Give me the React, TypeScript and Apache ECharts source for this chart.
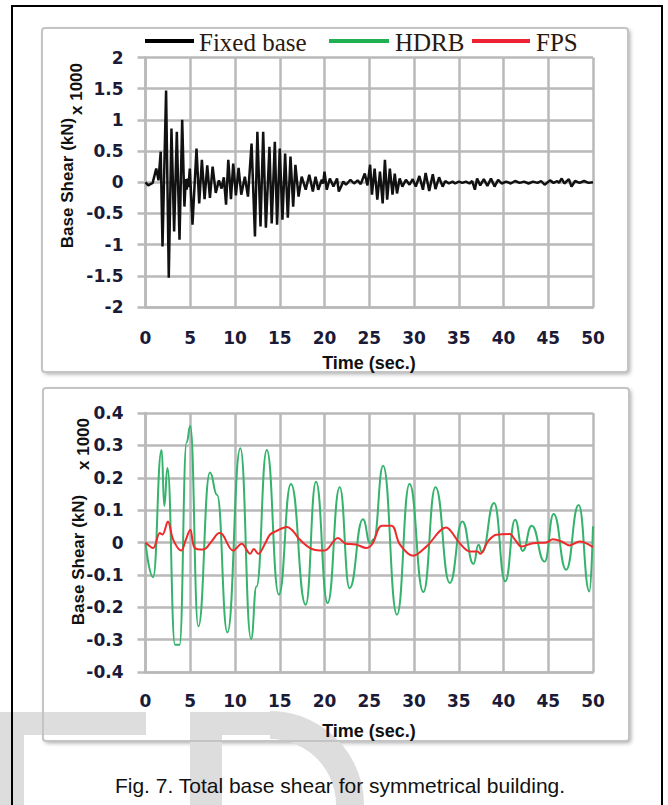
import React, { useEffect, useRef } from "react";
import * as echarts from "echarts";

// ---- data (time in sec, base shear in kN x 1000) ----
const fixedT = [
  0, 0.3, 0.8, 1.2, 1.45, 1.7, 1.9, 2.3, 2.6, 2.9,
  3.2, 3.5, 3.8, 4.1, 4.35, 4.5, 4.6, 4.7, 4.8, 4.95,
  5.25, 5.7, 6.0, 6.3, 6.6, 6.9, 7.2, 7.5, 7.85, 8.2,
  8.5, 8.75, 9.0, 9.25, 9.55, 9.8, 10.1, 10.4, 10.7, 11.1,
  11.45, 11.85, 12.23, 12.5, 12.85, 13.15, 13.45, 13.85, 14.1, 14.45,
  14.7, 15.0, 15.3, 15.6, 15.9, 16.2, 16.5, 16.75, 17.1, 17.45,
  17.9, 18.3, 18.7, 19.0, 19.3, 19.7, 19.85, 20.0, 20.25, 20.6,
  21.0, 21.4, 21.6, 22.1, 22.4, 22.9, 23.3, 23.7, 24.05, 24.5,
  24.8, 25.1, 25.3, 25.6, 25.9, 26.2, 26.5, 26.75, 27.0, 27.3,
  27.6, 27.85, 28.1, 28.4, 28.7, 29.1, 29.5, 29.85, 30.2, 30.6,
  31.0, 31.3, 31.7, 32.1, 32.4, 32.8, 33.2, 33.5, 33.9, 34.3,
  34.6, 35.0, 35.4, 35.8, 36.2, 36.5, 36.8, 37.05, 37.4, 37.8,
  38.2, 38.6, 39.0, 39.4, 39.8, 40.3, 40.8, 41.3, 41.8, 42.3,
  42.8, 43.3, 43.8, 44.2, 44.6, 45.2, 45.6, 46.0, 46.2, 46.5,
  46.8, 47.3, 47.6, 48.0, 48.5, 49.0, 49.5, 50.0,
];
const fixedV = [
  0, -0.05, -0.01, 0.22, 0.03, 0.49, -1.03, 1.47, -1.53, 0.86,
  -0.79, 0.81, -0.92, 1.0, -0.39, 0.05, -0.12, 0.06, -0.08, 0.22,
  -0.68, 0.54, -0.34, 0.36, -0.27, 0.27, -0.25, 0.25, -0.17, 0.03,
  -0.1, 0.08, -0.36, 0.36, -0.27, 0.3, -0.21, 0.23, -0.2, 0.09,
  -0.23, 0.62, -0.87, 0.81, -0.71, 0.81, -0.73, 0.57, -0.66, 0.65,
  -0.68, 0.54, -0.6, 0.46, -0.57, 0.41, -0.39, 0.28, -0.23, 0.09,
  -0.12, 0.12, -0.15, 0.09, -0.12, 0.04, -0.02, 0.17, -0.12, 0.06,
  -0.07, 0.06, -0.15, 0.01, -0.04, 0.04, -0.02, 0.03, -0.03, 0.14,
  -0.05, 0.28, -0.2, 0.22, -0.28, 0.17, -0.34, 0.36, -0.28, 0.22,
  -0.2, 0.14, -0.18, 0.06, -0.07, 0.04, -0.04, 0.05, -0.07, 0.1,
  -0.12, 0.15, -0.14, 0.13, -0.11, 0.08, -0.07, 0.02, -0.02, 0.01,
  -0.02, 0.01, -0.01, 0.01, -0.02, 0.02, -0.12, 0.06, -0.05, 0.05,
  -0.06, 0.06, -0.07, 0.04, -0.02, 0.01, -0.02, 0.02, -0.01, 0.01,
  -0.02, 0.01, -0.01, 0.02, -0.04, 0.03, -0.01, 0.02, -0.01, 0.06,
  -0.02, 0.05, -0.07, 0.02, -0.01, 0.02, -0.01, 0.0,
];

const hdrbT = [
  0, 0.85, 1.8, 2.1, 2.45, 3.3, 3.8, 4.6, 5.0, 5.9,
  7.2, 8.0, 9.15, 10.6, 11.8, 12.4, 13.55, 14.9, 16.25, 17.9,
  19.05, 20.35, 21.7, 22.8, 24.3, 25.1, 25.5, 26.55, 28.1, 29.5,
  31.05, 32.4, 34.0, 35.4, 36.65, 37.2, 37.6, 38.95, 40.2, 41.3,
  42.15, 43.15, 44.6, 45.6, 47.0, 48.4, 49.6, 50,
];
const hdrbV = [
  0, -0.107, 0.286, 0.113, 0.23, -0.316, -0.316, 0.31, 0.36, -0.259,
  0.216, 0.147, -0.278, 0.291, -0.298, -0.136, 0.286, -0.161, 0.181, -0.192,
  0.188, -0.187, 0.171, -0.141, 0.072, -0.002, 0.01, 0.237, -0.223, 0.181,
  -0.153, 0.171, -0.125, 0.065, -0.066, -0.007, -0.03, 0.122, -0.12, 0.07,
  -0.026, 0.052, -0.059, 0.088, -0.084, 0.116, -0.151, 0.05,
];

const fpsT = [
  0, 0.85, 1.6, 1.9, 2.5, 3.1, 4.0, 4.5, 5.0, 5.5,
  6.45, 7.4, 8.25, 8.6, 9.8, 10.75, 11.7, 12.1, 12.6, 13.35,
  13.9, 14.6, 15.8, 16.5, 17.2, 18.6, 20.0, 21.5, 22.4, 23.5,
  24.7, 25.35, 26.4, 27.5, 28.4, 29.9, 31.4, 33.6, 34.1, 35.1,
  36.25, 37.1, 37.4, 38.3, 39.2, 40.7, 41.3, 42.0, 43.3, 44.8,
  45.5, 46.5, 47.4, 48.5, 50,
];
const fpsV = [
  0, -0.017, 0.029, 0.025, 0.065, 0.008, -0.025, 0.008, 0.039, -0.017,
  -0.022, 0.004, 0.029, 0.025, -0.025, -0.004, -0.035, -0.02, -0.035, -0.004,
  0.024, 0.035, 0.048, 0.035, 0.01, -0.02, -0.025, 0.014, -0.004, -0.006,
  -0.017, -0.004, 0.052, 0.052, -0.005, -0.041, -0.012, 0.046, 0.036, -0.002,
  -0.028, -0.028, -0.035, 0.005, 0.024, 0.026, 0.008, -0.012, -0.002, 0,
  0.01, 0.003, -0.009, 0.003, -0.014,
];

// axis ranges
const timeRange = [0, 50, 5]; // min, max, interval
const topYRange = [-2, 2, 0.5];
const bottomYRange = [-0.4, 0.4, 0.1];

const seriesNames = ["Fixed base", "HDRB", "FPS"];
const seriesColors = ["#111111", "#35b36c", "#ee2b2b"];
const legendColors = ["#000000", "#21b04f", "#ee2233"];

const yTitle = "Base Shear (kN)";
const yScale = "x 1000";
const xTitle = "Time (sec.)";
const caption = "Fig. 7. Total base shear for symmetrical building.";

const zip = (t: number[], v: number[]) => t.map((x, i) => [x, v[i]]);

const GRID = "#b9b9b9";
const LABEL = "#1b1b38";
const WM = "#dddddd";

export default function App() {
  const ref = useRef<HTMLDivElement>(null);

  useEffect(() => {
    const chart = echarts.init(ref.current!, null, { renderer: "svg" });

    const labelStyle = {
      color: LABEL,
      fontFamily: "DejaVu Sans",
      fontWeight: "bold" as const,
      fontSize: 17,
    };

    const xAxisBase = (gridIndex: number, margin: number) => ({
      type: "value",
      gridIndex,
      min: timeRange[0],
      max: timeRange[1],
      interval: timeRange[2],
      axisLine: { show: true, onZero: false, lineStyle: { color: GRID, width: 2.5 } },
      axisTick: { show: false },
      splitLine: { show: true, lineStyle: { color: GRID, width: 2.5 } },
      axisLabel: { ...labelStyle, margin },
    });

    const yAxisBase = (gridIndex: number, r: number[]) => ({
      type: "value",
      gridIndex,
      min: r[0],
      max: r[1],
      interval: r[2],
      axisLine: { show: true, onZero: false, lineStyle: { color: GRID, width: 2.5 } },
      axisTick: { show: true, length: 8, lineStyle: { color: GRID, width: 2.5 } },
      splitLine: { show: true, lineStyle: { color: GRID, width: 2.5 } },
      axisLabel: { ...labelStyle, margin: 22 },
    });

    const txt = (
      text: string,
      x: number,
      y: number,
      font: string,
      opts: any = {}
    ) => ({
      type: "text",
      x,
      y,
      z: 10,
      rotation: opts.rotation || 0,
      scaleX: opts.scaleX || 1,
      style: {
        text,
        font,
        fill: opts.fill || "#111",
        textAlign: opts.align || "center",
        textVerticalAlign: "middle",
        align: opts.align || "center",
        verticalAlign: "middle",
      },
    });

    const legendY = 41;
    const legendLine = (x1: number, x2: number, color: string) => ({
      type: "line",
      z: 10,
      shape: { x1, y1: legendY, x2, y2: legendY },
      style: { stroke: color, lineWidth: 4 },
    });

    const legendFont = '25px "Liberation Serif"';

    const graphic: any[] = [
      // panel backgrounds
      {
        type: "rect",
        z: -5,
        shape: { x: 42, y: 28, width: 586, height: 344, r: 3 },
        style: {
          fill: "#fff",
          shadowBlur: 4,
          shadowColor: "rgba(0,0,0,0.35)",
          shadowOffsetX: 2,
          shadowOffsetY: 2,
        },
      },
      {
        type: "rect",
        z: -5,
        shape: { x: 43, y: 388, width: 586, height: 353, r: 3 },
        style: {
          fill: "#fff",
          shadowBlur: 4,
          shadowColor: "rgba(0,0,0,0.35)",
          shadowOffsetX: 2,
          shadowOffsetY: 2,
        },
      },
      // watermark "ED"
      { type: "rect", z: -4, shape: { x: 0, y: 712, width: 146, height: 23 }, style: { fill: WM } },
      { type: "rect", z: -4, shape: { x: 0, y: 712, width: 24, height: 100 }, style: { fill: WM } },
      { type: "rect", z: -4, shape: { x: 190, y: 712, width: 32, height: 100 }, style: { fill: WM } },
      { type: "rect", z: -4, shape: { x: 190, y: 712, width: 85, height: 23 }, style: { fill: WM } },
      {
        type: "arc",
        z: -4,
        shape: { cx: 270, cy: 805, r: 80, startAngle: -Math.PI / 2, endAngle: 0.2 },
        style: { stroke: WM, lineWidth: 28, fill: "none" },
      },
      // panel borders
      {
        type: "rect",
        z: -3,
        shape: { x: 42, y: 28, width: 586, height: 344, r: 3 },
        style: { fill: "none", stroke: "#c4c4c4", lineWidth: 2 },
      },
      {
        type: "rect",
        z: -3,
        shape: { x: 43, y: 388, width: 586, height: 353, r: 3 },
        style: { fill: "none", stroke: "#c4c4c4", lineWidth: 2 },
      },
      // outer frame
      {
        type: "rect",
        z: 20,
        shape: { x: 12, y: 6, width: 650, height: 900 },
        style: { fill: "none", stroke: "#000", lineWidth: 2 },
      },
      // legend
      legendLine(145, 194, legendColors[0]),
      txt(seriesNames[0], 199, legendY + 1, legendFont, { align: "left", fill: "#2a1a10" }),
      legendLine(329, 389, legendColors[1]),
      txt(seriesNames[1], 395, legendY + 1, legendFont, { align: "left", fill: "#2a1a10" }),
      legendLine(472, 530, legendColors[2]),
      txt(seriesNames[2], 536, legendY + 1, legendFont, { align: "left", fill: "#2a1a10" }),
      // y titles
      txt(yTitle, 67, 183, 'bold 17px "Liberation Sans"', { rotation: Math.PI / 2 }),
      txt(yScale, 76, 89, 'bold 17px "Liberation Sans"', { rotation: Math.PI / 2 }),
      txt(yTitle, 78, 560, 'bold 17px "Liberation Sans"', { rotation: Math.PI / 2 }),
      txt(yScale, 83, 444, 'bold 17px "Liberation Sans"', { rotation: Math.PI / 2 }),
      // x titles
      txt(xTitle, 369, 363, 'bold 18px "Liberation Sans"'),
      txt(xTitle, 369, 731, 'bold 18px "Liberation Sans"'),
      // caption
      txt(caption, 340, 785, '21px "Liberation Sans"', { fill: "#111" }),
    ];

    chart.setOption({
      animation: false,
      backgroundColor: "#fff",
      grid: [
        { left: 145.5, top: 57.5, width: 447.5, height: 249.5 },
        { left: 145.5, top: 413, width: 447.5, height: 259 },
      ],
      xAxis: [xAxisBase(0, 22), xAxisBase(1, 20)],
      yAxis: [yAxisBase(0, topYRange), yAxisBase(1, bottomYRange)],
      series: [
        {
          type: "line",
          name: seriesNames[0],
          xAxisIndex: 0,
          yAxisIndex: 0,
          data: zip(fixedT, fixedV),
          symbol: "none",
          showSymbol: false,
          lineStyle: { color: seriesColors[0], width: 2.5 },
          z: 3,
        },
        {
          type: "line",
          name: seriesNames[1],
          xAxisIndex: 1,
          yAxisIndex: 1,
          data: zip(hdrbT, hdrbV),
          smooth: 0.5,
          smoothMonotone: "x",
          symbol: "none",
          showSymbol: false,
          lineStyle: { color: seriesColors[1], width: 2 },
          z: 3,
        },
        {
          type: "line",
          name: seriesNames[2],
          xAxisIndex: 1,
          yAxisIndex: 1,
          data: zip(fpsT, fpsV),
          smooth: 0.35,
          symbol: "none",
          showSymbol: false,
          lineStyle: { color: seriesColors[2], width: 2 },
          z: 4,
        },
      ],
      graphic,
    });

    return () => chart.dispose();
  }, []);

  return (
    <div
      ref={ref}
      style={{ position: "fixed", left: 0, top: 0, width: 668, height: 805, background: "#fff" }}
    />
  );
}
